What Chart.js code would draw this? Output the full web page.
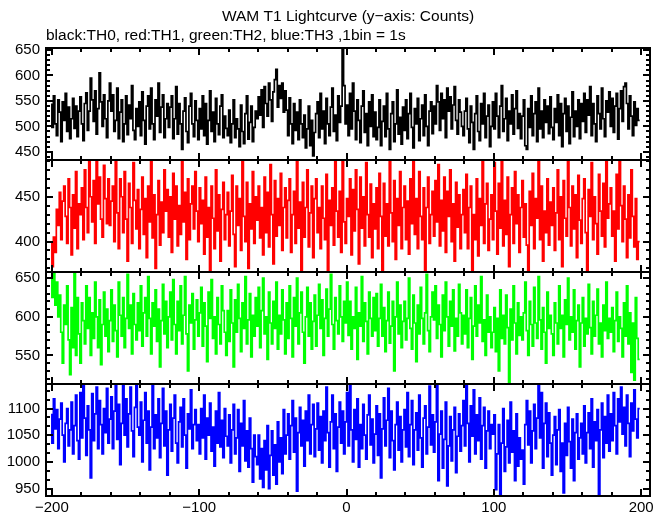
<!DOCTYPE html>
<html><head><meta charset="utf-8">
<script src="https://cdn.jsdelivr.net/npm/chart.js@4/dist/chart.umd.min.js"></script>
<style>html,body{margin:0;padding:0;background:#fff}#wrap{width:669px;height:515px;position:relative}</style>
</head><body><div id="wrap"><canvas id="c" width="669" height="515"></canvas></div>
<script>
const titleText = 'WAM T1 Lightcurve (y\u2212axis: Counts)';
const subtitleText = 'black:TH0, red:TH1, green:TH2, blue:TH3 ,1bin = 1s';
const firstBin = -200;
const xTickValues = [-200, -100, 0, 100, 200];
const xTickLabels = ['\u2212200', '\u2212100', '0', '100', '200'];

const th0 = [
545,498,560,505,482,552,528,470,548,512,565,490,538,476,515,555,496,540,480,530,
558,505,472,545,566,492,530,595,552,510,570,485,535,605,548,500,562,515,478,550,
585,530,562,490,512,575,476,528,552,470,505,560,484,542,515,580,492,474,535,500,
548,482,568,512,465,540,560,495,575,505,474,552,520,585,488,538,562,478,515,545,
498,538,560,476,515,578,485,545,505,455,530,556,490,468,540,565,505,480,550,512,
474,535,495,560,482,545,465,512,570,490,528,470,555,505,484,540,562,478,520,496,
482,532,468,505,552,478,515,495,460,542,490,466,525,560,475,508,540,470,498,530,
515,558,522,572,498,578,545,520,585,552,510,568,592,612,538,580,555,585,528,570,
532,482,556,505,466,545,492,528,474,552,505,478,522,458,495,540,462,512,442,488,
525,548,478,565,495,530,466,555,505,482,538,575,490,522,472,560,508,540,700,580,
505,542,482,565,495,585,530,474,552,512,468,540,570,488,525,462,548,500,562,480,
528,474,498,552,462,510,540,480,565,495,455,525,548,470,505,572,485,518,465,538,
492,552,476,525,565,498,458,535,505,555,472,515,542,482,562,500,462,530,548,486,
540,505,580,548,492,565,515,552,478,575,530,558,495,542,578,512,485,552,528,500,
482,530,555,495,468,540,508,455,525,560,490,472,545,505,565,478,520,542,460,500,
548,495,565,520,478,540,580,490,515,555,472,530,505,562,485,535,570,496,525,476,
520,552,462,455,535,498,560,482,525,548,470,575,495,530,478,552,508,540,486,558,
498,474,535,508,562,482,545,460,525,555,490,540,466,518,568,480,530,500,552,476,
545,510,565,488,552,522,578,482,545,505,470,560,525,495,575,515,480,550,528,568,
500,555,488,540,565,475,535,570,510,578,585,545,495,560,520,482,548,502,535,512];

const th1 = [
400,372,405,388,436,418,455,402,445,462,428,398,470,438,385,452,415,478,392,442,
430,460,402,480,438,410,491,450,422,468,398,491,442,472,425,405,485,448,420,470,
418,445,462,400,491,432,392,470,450,410,478,425,378,465,438,398,488,446,414,458,
392,436,472,408,448,382,462,422,491,404,452,370,430,468,396,444,410,480,434,458,
405,450,388,476,425,462,395,440,408,491,422,455,380,470,402,442,462,414,478,434,
400,460,420,446,386,472,405,438,366,462,426,392,480,412,452,378,436,466,402,430,
455,395,434,474,408,372,462,418,448,390,491,428,400,466,370,442,414,478,398,450,
424,462,404,438,385,472,410,455,394,486,430,375,468,406,448,418,476,390,438,460,
404,446,470,388,430,456,398,491,415,444,368,466,405,438,480,394,432,462,382,448,
470,410,438,392,462,426,402,475,366,446,418,460,396,491,434,405,456,388,491,422,
398,448,428,470,385,458,412,480,436,375,472,415,450,395,488,430,405,464,382,442,
414,460,392,476,428,366,465,406,442,395,491,432,400,468,380,448,418,478,392,438,
462,402,445,386,470,420,491,408,448,392,478,428,402,460,366,438,472,398,430,456,
406,468,422,486,395,446,412,472,388,456,428,480,400,442,378,466,416,452,392,430,
458,410,475,392,438,462,366,430,402,470,384,448,418,491,398,442,465,390,425,452,
402,488,434,386,465,415,491,395,446,408,472,372,430,460,398,478,420,452,388,438,
468,405,442,396,366,456,418,476,392,448,426,491,402,462,378,434,410,470,396,444,
418,460,390,432,480,402,450,372,468,426,406,491,438,395,462,414,452,382,474,424,
398,448,470,410,366,458,428,488,402,450,420,386,475,434,406,465,394,491,426,442,
460,406,434,378,475,414,491,440,400,462,425,382,452,404,480,428,394,448,380,400];

const th2 = [
650,625,658,615,645,600,628,580,540,615,590,640,570,525,612,560,658,550,625,578,
540,618,595,565,640,585,625,550,605,572,645,600,560,622,538,590,632,575,610,555,
595,635,568,615,582,548,645,602,575,625,560,598,655,585,615,552,630,590,570,618,
582,640,562,605,625,575,652,598,552,618,588,635,568,610,535,595,642,578,620,560,
600,632,570,648,590,552,620,582,640,565,602,652,578,530,615,592,630,558,596,622,
575,605,638,562,618,588,542,632,598,648,572,600,552,625,590,565,640,608,580,550,
608,568,635,592,535,622,580,642,598,555,618,585,652,565,596,630,548,602,575,625,
588,638,560,608,650,578,600,545,632,592,565,620,585,645,558,602,578,635,596,552,
618,572,640,598,548,625,588,650,565,605,632,580,540,600,638,575,618,558,594,628,
562,602,642,585,622,550,598,636,575,610,655,590,558,625,595,578,640,600,568,620,
592,645,576,620,558,600,585,638,545,605,588,652,568,618,594,552,632,598,575,625,
582,630,562,598,642,575,612,555,595,632,566,588,620,530,600,645,578,615,560,594,
620,570,598,650,585,558,628,592,542,615,578,638,598,565,605,655,582,555,600,632,
596,640,572,615,590,548,628,582,645,600,562,620,588,635,556,598,575,642,605,565,
602,578,635,560,598,625,545,588,640,575,615,592,652,568,596,550,628,580,600,560,
580,612,555,598,530,635,572,602,565,628,586,515,610,570,640,592,552,618,576,600,
570,605,645,582,550,620,590,562,638,592,572,652,596,558,612,580,540,632,585,602,
578,550,618,592,565,640,585,602,548,622,590,650,570,600,580,635,558,595,615,535,
592,625,562,598,578,642,586,552,620,575,602,636,565,592,548,615,582,645,572,598,
580,612,555,595,632,568,600,585,548,618,575,640,565,605,528,592,518,625,572,545];

const th3 = [
1090,1035,1118,1062,1098,1025,1080,1110,1050,1000,1072,1100,1030,1060,1112,1015,1068,1125,1040,1005,
1130,1045,1146,1082,1012,1105,1060,970,1128,1040,1090,1140,1025,1115,1070,1015,1100,1055,1138,1035,
1080,1122,1025,1095,1146,1042,1108,995,1072,1146,1050,1118,1028,1090,1140,1058,1010,1102,1146,1065,
1050,1112,1000,1078,1130,1035,1095,985,1065,1146,1025,1088,1045,1118,1008,1072,1138,1030,1095,975,
1060,1108,1020,1082,1125,1035,998,1075,1102,1028,1118,1050,988,1090,1062,1135,1025,1070,1098,1040,
1070,1015,1100,1045,1125,1005,1082,1050,1110,1020,1065,992,1095,1035,1130,1028,1078,1008,1100,1048,
1030,1088,998,1060,1108,1015,1045,1098,982,1072,1030,1115,1002,1058,990,1082,1025,962,1050,1010,
995,1050,968,1025,952,1040,985,1068,950,1012,1058,975,1032,958,1075,1000,1045,978,1098,1015,
1050,1090,1005,1068,1115,1018,1082,945,1055,1102,1030,1078,992,1095,1040,1125,1015,1070,1108,1010,
1062,1110,1022,1085,998,1095,1040,1140,1055,990,1075,1125,1025,1090,982,1065,1112,1035,1095,1015,
1075,1130,1030,1146,1060,1000,1098,1042,1118,990,1070,1025,1108,1050,1005,1088,1125,1032,1080,998,
1052,1105,1012,1090,970,1062,1120,1030,1078,1138,1008,1095,1040,985,1070,1112,1022,1085,1000,1060,
1098,1028,1130,1010,1070,1115,995,1060,1092,1022,1125,1045,990,1082,1105,1015,1065,1142,1032,1088,
1018,1075,1146,965,1052,1095,988,1042,1112,955,1030,1085,1002,1060,1102,980,1048,1090,1020,1068,
1115,1030,1146,1072,1000,1105,1048,1135,1015,1088,1040,1120,1005,1068,1102,988,1058,1095,1025,1070,
1052,1088,948,1015,1070,938,1035,1100,982,1028,1078,998,1112,1018,1058,965,1090,992,1045,1005,
1022,958,1070,1115,1032,1095,998,1058,1108,1025,1082,1146,1045,1130,988,1072,1110,1010,1092,1035,
975,1050,1085,995,1060,1098,982,1035,942,1072,1012,1102,1038,988,1080,965,1055,1090,1005,1045,
1072,1015,1105,998,1055,1092,1025,1118,990,1075,1040,1098,936,1060,1110,1008,1085,1035,1125,1020,
1090,1040,1130,1068,1015,1118,1075,1140,1052,1102,1030,1125,1072,1010,1110,1058,1135,1080,1045,1100];

const seriesNames = ['TH0', 'TH1', 'TH2', 'TH3'];
const seriesColors = ['#000000', '#ff0000', '#00ff00', '#0000ff'];
const panelMin = [434, 366, 513, 936];
const panelMax = [654, 491, 658, 1146];
const yTickValues = [[450, 500, 550, 600, 650], [400, 450], [550, 600, 650], [950, 1000, 1050, 1100]];
const yTickLabels = [['450', '500', '550', '600', '650'], ['400', '450'], ['550', '600', '650'], ['950', '1000', '1050', '1100']];
const yMinorStep = [10, 10, 10, 50 / 3];
const xMinorStep = 20;

const allSeries = [th0, th1, th2, th3];
const toPoints = arr => arr.map((v, i) => ({ x: firstBin + i, y: v }));

Chart.defaults.font.family = '"Liberation Sans", Arial, sans-serif';
Chart.defaults.font.size = 15;
Chart.defaults.color = '#000';

const scales = {
  x: {
    type: 'linear', position: 'bottom', min: -204, max: 206,
    grid: { display: false, drawTicks: false }, border: { display: false },
    afterBuildTicks: s => { s.ticks = xTickValues.map(v => ({ value: v })); },
    afterFit: s => { s.height = 19; },
    ticks: { autoSkip: false, maxRotation: 0, padding: 3,
      callback: (v, i) => xTickLabels[i] }
  }
};
allSeries.forEach((_, p) => {
  scales['y' + p] = {
    type: 'linear', position: 'left', stack: 'panels', stackWeight: 1,
    weight: 10 - p,
    min: panelMin[p], max: panelMax[p],
    grid: { display: false, drawTicks: false }, border: { display: false },
    afterBuildTicks: s => { s.ticks = yTickValues[p].map(v => ({ value: v })); },
    afterFit: s => { s.width = 46; },
    ticks: { autoSkip: false, padding: 6, callback: (v, i) => yTickLabels[p][i] }
  };
});

const framePlugin = {
  id: 'frame',
  afterDatasetsDraw(chart) {
    const ctx = chart.ctx;
    const xs = chart.scales.x;
    const L = chart.chartArea.left, R = chart.chartArea.right;
    ctx.save();
    ctx.strokeStyle = '#000';
    ctx.lineWidth = 2;
    allSeries.forEach((_, p) => {
      const ys = chart.scales['y' + p];
      const T = ys.top, B = ys.bottom;
      ctx.strokeRect(L, T, R - L, B - T);
      ctx.beginPath();
      for (let v = -200; v <= 200; v += xMinorStep) {
        const px = Math.round(xs.getPixelForValue(v));
        const len = (v % 100 === 0) ? 7 : 4;
        ctx.moveTo(px, B); ctx.lineTo(px, B - len);
        ctx.moveTo(px, T); ctx.lineTo(px, T + len);
      }
      const majors = yTickValues[p];
      const step = yMinorStep[p];
      const lo = majors[0] - 50, hi = majors[majors.length - 1] + 50;
      for (let v = lo; v <= hi + 0.01; v += step) {
        if (v < panelMin[p] || v > panelMax[p]) continue;
        const py = Math.round(ys.getPixelForValue(v));
        const r = ((v % 50) + 50) % 50;
        const isMajor = r < 0.01 || r > 49.99;
        const len = isMajor ? 7 : 4;
        ctx.moveTo(L, py); ctx.lineTo(L + len, py);
        ctx.moveTo(R, py); ctx.lineTo(R - len, py);
      }
      ctx.stroke();
    });
    ctx.fillStyle = '#000';
    ctx.font = '15.5px "Liberation Sans", Arial, sans-serif';
    ctx.textBaseline = 'middle';
    ctx.textAlign = 'center';
    ctx.fillText(titleText, (L + R) / 2, 17);
    ctx.textAlign = 'left';
    ctx.fillText(subtitleText, 46, 36);
    ctx.restore();
  }
};

new Chart(document.getElementById('c'), {
  type: 'line',
  data: {
    datasets: allSeries.map((arr, p) => ({
      label: seriesNames[p], data: toPoints(arr), yAxisID: 'y' + p, xAxisID: 'x',
      borderColor: seriesColors[p], borderWidth: 1.7, pointRadius: 0, stepped: 'after',
      fill: false, clip: 0
    }))
  },
  options: {
    responsive: false, animation: false,
    layout: { padding: { top: 48, right: 19, left: 0, bottom: 0 } },
    plugins: { legend: { display: false }, tooltip: { enabled: false }, title: { display: false } },
    scales
  },
  plugins: [framePlugin]
});
</script></body></html>
